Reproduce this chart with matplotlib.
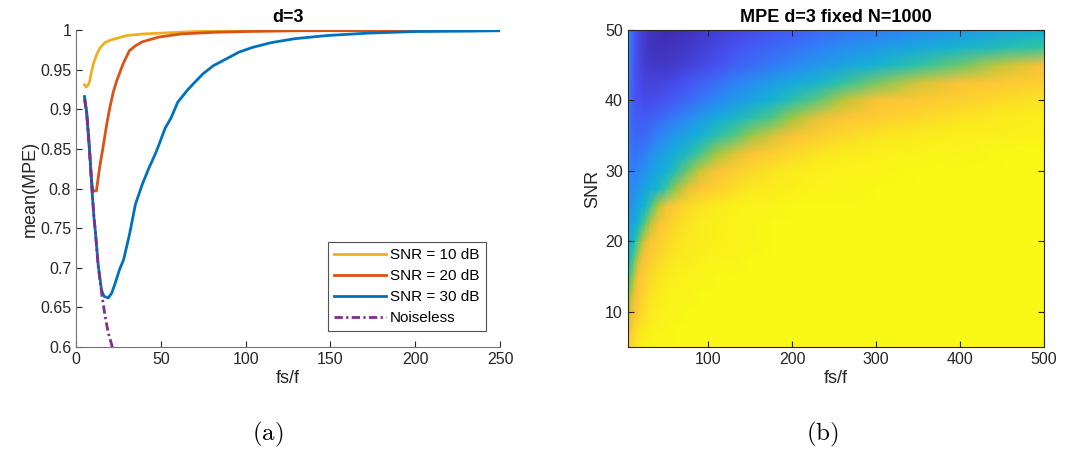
import numpy as np
import matplotlib
matplotlib.use('Agg')
import matplotlib.pyplot as plt
from matplotlib.colors import LinearSegmentedColormap
from matplotlib.ticker import FormatStrFormatter

# ---- panel (a): mean(MPE) vs fs/f ----
fs_10 = [5, 6, 7, 8, 9, 10.2, 12, 14, 17, 20, 25, 30, 40, 50, 70, 100, 150, 250]
mpe_10 = [0.931, 0.928, 0.930, 0.935, 0.946, 0.957, 0.968, 0.977, 0.984, 0.987,
          0.990, 0.993, 0.995, 0.996, 0.998, 0.999, 0.9995, 0.9995]

fs_20 = [5, 6.3, 7.8, 9.2, 10, 12, 14, 16, 18, 20, 22, 24, 27.7, 31.5, 35, 39,
         48.7, 62, 81, 100, 130, 250]
mpe_20 = [0.915, 0.895, 0.853, 0.810, 0.797, 0.797, 0.828, 0.853, 0.880, 0.903,
          0.922, 0.936, 0.957, 0.974, 0.980, 0.985, 0.991, 0.995, 0.997, 0.998,
          0.999, 0.9995]

fs_30 = [5, 6.3, 7.8, 9.2, 10.5, 11.5, 13, 15, 16.5, 19, 21, 23, 25.5, 28, 31.5,
         35, 39, 43, 47, 49, 52.5, 56, 60, 66, 70, 75, 81, 89, 96, 104, 115, 129,
         148, 172, 200, 230, 250]
mpe_30 = [0.916, 0.895, 0.853, 0.805, 0.765, 0.743, 0.705, 0.672, 0.664, 0.662,
          0.668, 0.680, 0.697, 0.710, 0.742, 0.780, 0.805, 0.826, 0.845, 0.856,
          0.876, 0.889, 0.909, 0.925, 0.934, 0.945, 0.955, 0.964, 0.972, 0.978,
          0.984, 0.989, 0.993, 0.996, 0.998, 0.9985, 0.999]

fs_nl = [5, 6.3, 7.8, 9.2, 10.5, 11.5, 13.1, 15.1, 17.1, 19, 21, 21.8]
mpe_nl = [0.912, 0.895, 0.853, 0.805, 0.765, 0.743, 0.701, 0.668, 0.639, 0.618,
          0.603, 0.595]

# ---- panel (b): MPE map, colour level (0 = dark blue, 1 = yellow) ----
fs_grid = [4, 6, 8, 12, 16, 20, 25, 30, 40, 50, 60, 75, 90, 110, 130, 150, 175,
           200, 230, 260, 300, 350, 400, 450, 500]
snr_grid = [5, 7.5, 10, 12.5, 15, 17.5, 20, 22.5, 25, 27.5, 30, 32.5, 35, 37.5,
            40, 42.5, 45, 47.5, 50]
level = [
    # SNR 5
    [0.90, 0.91, 0.92, 0.94, 0.96, 0.97, 0.98, 0.98, 0.99, 0.99, 0.99, 0.99, 0.99, 0.99, 0.99, 0.99, 0.99, 0.99, 0.99, 0.99, 0.99, 0.99, 0.99, 0.99, 0.99],
    # SNR 7.5
    [0.85, 0.86, 0.87, 0.90, 0.93, 0.95, 0.96, 0.97, 0.98, 0.98, 0.99, 0.99, 0.99, 0.99, 0.99, 0.99, 0.99, 0.99, 0.99, 0.99, 0.99, 0.99, 0.99, 0.99, 0.99],
    # SNR 10
    [0.80, 0.78, 0.80, 0.86, 0.88, 0.91, 0.93, 0.95, 0.97, 0.98, 0.98, 0.99, 0.99, 0.99, 0.99, 0.99, 0.99, 0.99, 0.99, 0.99, 0.99, 0.99, 0.99, 0.99, 0.99],
    # SNR 12.5
    [0.74, 0.70, 0.72, 0.82, 0.86, 0.88, 0.91, 0.93, 0.95, 0.97, 0.98, 0.98, 0.99, 0.99, 0.99, 0.99, 0.99, 0.99, 0.99, 0.99, 0.99, 0.99, 0.99, 0.99, 0.99],
    # SNR 15
    [0.68, 0.60, 0.62, 0.74, 0.84, 0.87, 0.89, 0.91, 0.94, 0.96, 0.97, 0.98, 0.98, 0.99, 0.99, 0.99, 0.99, 0.99, 0.99, 0.99, 0.99, 0.99, 0.99, 0.99, 0.99],
    # SNR 17.5
    [0.62, 0.50, 0.52, 0.62, 0.74, 0.82, 0.86, 0.88, 0.91, 0.93, 0.95, 0.96, 0.97, 0.98, 0.98, 0.99, 0.99, 0.99, 0.99, 0.99, 0.99, 0.99, 0.99, 0.99, 0.99],
    # SNR 20
    [0.60, 0.44, 0.43, 0.50, 0.60, 0.70, 0.79, 0.85, 0.88, 0.91, 0.93, 0.95, 0.96, 0.97, 0.98, 0.98, 0.99, 0.99, 0.99, 0.99, 0.99, 0.99, 0.99, 0.99, 0.99],
    # SNR 22.5
    [0.62, 0.38, 0.38, 0.41, 0.44, 0.52, 0.62, 0.72, 0.85, 0.88, 0.91, 0.94, 0.96, 0.97, 0.98, 0.98, 0.99, 0.99, 0.99, 0.99, 0.99, 0.99, 0.99, 0.99, 0.99],
    # SNR 25
    [0.66, 0.33, 0.33, 0.36, 0.40, 0.42, 0.46, 0.55, 0.72, 0.84, 0.87, 0.91, 0.94, 0.96, 0.97, 0.98, 0.98, 0.99, 0.99, 0.99, 0.99, 0.99, 0.99, 0.99, 0.99],
    # SNR 27.5
    [0.70, 0.32, 0.30, 0.31, 0.33, 0.36, 0.39, 0.41, 0.45, 0.57, 0.68, 0.81, 0.86, 0.89, 0.92, 0.95, 0.96, 0.97, 0.98, 0.98, 0.99, 0.99, 0.99, 0.99, 0.99],
    # SNR 30
    [0.73, 0.31, 0.28, 0.27, 0.28, 0.30, 0.33, 0.36, 0.40, 0.43, 0.50, 0.64, 0.76, 0.85, 0.88, 0.91, 0.94, 0.96, 0.97, 0.98, 0.98, 0.99, 0.99, 0.99, 0.99],
    # SNR 32.5
    [0.75, 0.30, 0.25, 0.23, 0.24, 0.25, 0.27, 0.30, 0.35, 0.39, 0.42, 0.48, 0.58, 0.70, 0.79, 0.85, 0.88, 0.91, 0.94, 0.96, 0.97, 0.98, 0.98, 0.99, 0.99],
    # SNR 35
    [0.76, 0.29, 0.22, 0.20, 0.20, 0.20, 0.21, 0.23, 0.27, 0.31, 0.35, 0.39, 0.43, 0.52, 0.60, 0.69, 0.78, 0.85, 0.88, 0.91, 0.94, 0.96, 0.97, 0.97, 0.98],
    # SNR 37.5
    [0.76, 0.28, 0.21, 0.18, 0.17, 0.17, 0.17, 0.18, 0.20, 0.23, 0.26, 0.30, 0.35, 0.41, 0.46, 0.52, 0.60, 0.70, 0.82, 0.86, 0.88, 0.91, 0.94, 0.96, 0.97],
    # SNR 40
    [0.75, 0.28, 0.20, 0.16, 0.14, 0.13, 0.12, 0.12, 0.13, 0.15, 0.17, 0.20, 0.24, 0.29, 0.34, 0.38, 0.44, 0.52, 0.62, 0.74, 0.85, 0.87, 0.89, 0.92, 0.94],
    # SNR 42.5
    [0.74, 0.29, 0.21, 0.16, 0.13, 0.11, 0.10, 0.10, 0.10, 0.11, 0.12, 0.15, 0.18, 0.22, 0.27, 0.31, 0.36, 0.40, 0.45, 0.54, 0.65, 0.78, 0.85, 0.87, 0.89],
    # SNR 45
    [0.72, 0.30, 0.22, 0.16, 0.12, 0.10, 0.08, 0.07, 0.06, 0.06, 0.07, 0.09, 0.11, 0.14, 0.18, 0.21, 0.25, 0.29, 0.34, 0.38, 0.44, 0.54, 0.64, 0.76, 0.85],
    # SNR 47.5
    [0.70, 0.31, 0.23, 0.16, 0.12, 0.09, 0.07, 0.05, 0.04, 0.04, 0.05, 0.06, 0.08, 0.11, 0.14, 0.17, 0.20, 0.23, 0.27, 0.31, 0.35, 0.40, 0.45, 0.50, 0.56],
    # SNR 50
    [0.68, 0.32, 0.24, 0.16, 0.12, 0.09, 0.07, 0.05, 0.03, 0.02, 0.03, 0.04, 0.06, 0.08, 0.10, 0.12, 0.15, 0.17, 0.20, 0.23, 0.26, 0.30, 0.34, 0.38, 0.42],
]

parula = LinearSegmentedColormap.from_list('parula', [
    (0.2422, 0.1504, 0.6603), (0.2810, 0.3228, 0.9579), (0.1786, 0.5289, 0.9682),
    (0.0689, 0.6948, 0.8394), (0.2161, 0.7843, 0.5923), (0.6720, 0.7793, 0.2227),
    (0.9970, 0.7659, 0.2199), (0.9769, 0.9839, 0.0805)])

plt.rcParams['font.family'] = ['Liberation Sans', 'DejaVu Sans']
plt.rcParams['mathtext.fontset'] = 'cm'
axc = '0.15'

fig = plt.figure(figsize=(10.91, 4.54), dpi=100)

# left panel
ax1 = fig.add_axes([0.0697, 0.2355, 0.3887, 0.6985])
ax1.plot(fs_10, mpe_10, color=(0.929, 0.694, 0.125), lw=2, label='SNR = 10 dB')
ax1.plot(fs_20, mpe_20, color=(0.851, 0.325, 0.098), lw=2, label='SNR = 20 dB')
ax1.plot(fs_30, mpe_30, color=(0.0, 0.447, 0.741), lw=2, label='SNR = 30 dB')
ax1.plot(fs_nl, mpe_nl, color=(0.494, 0.184, 0.556), lw=2,
         linestyle=(0, (3, 1.2, 0.8, 1.2)), label='Noiseless')
ax1.set_xlim(0, 250)
ax1.set_ylim(0.6, 1.0)
ax1.set_xticks([0, 50, 100, 150, 200, 250])
ax1.set_yticks([0.6, 0.65, 0.7, 0.75, 0.8, 0.85, 0.9, 0.95, 1.0])
ax1.yaxis.set_major_formatter(FormatStrFormatter('%g'))
ax1.spines['top'].set_visible(False)
ax1.spines['right'].set_visible(False)
for s in ('left', 'bottom'):
    ax1.spines[s].set_color('0.45')
    ax1.spines[s].set_linewidth(0.8)
ax1.tick_params(direction='in', length=4, labelsize=11.5, colors=axc, width=0.8)
ax1.set_xlabel('fs/f', fontsize=13, color=axc, labelpad=2)
ax1.set_ylabel('mean(MPE)', fontsize=13, color=axc, labelpad=1)
ax1.set_title('d=3', fontsize=13, fontweight='bold', pad=6)
leg = ax1.legend(loc='lower right', bbox_to_anchor=(0.966, 0.05), fontsize=11,
                 frameon=True, fancybox=False, handlelength=3.4, handletextpad=0.3,
                 labelspacing=0.45, borderpad=0.4, borderaxespad=0)
leg.get_frame().set_edgecolor('0.15')
leg.get_frame().set_linewidth(0.8)

# right panel
ax2 = fig.add_axes([0.5753, 0.2355, 0.3816, 0.6985])
X, Y = np.meshgrid(fs_grid, snr_grid)
ax2.pcolormesh(X, Y, np.array(level), cmap=parula, vmin=0, vmax=1, shading='gouraud')
ax2.set_xlim(4, 500)
ax2.set_ylim(5, 50)
ax2.set_xticks([100, 200, 300, 400, 500])
ax2.set_yticks([10, 20, 30, 40, 50])
for s in ax2.spines.values():
    s.set_color('0.15')
    s.set_linewidth(0.8)
ax2.tick_params(direction='in', length=4, labelsize=11.5, colors=axc, width=0.8,
                top=True, right=True)
ax2.set_xlabel('fs/f', fontsize=13, color=axc, labelpad=2)
ax2.set_ylabel('SNR', fontsize=13, color=axc, labelpad=3)
ax2.set_title('MPE d=3 fixed N=1000', fontsize=13, fontweight='bold', pad=6)

fig.text(0.245, 0.042, r'$\mathrm{(a)}$', fontsize=18, ha='center', va='center')
fig.text(0.754, 0.042, r'$\mathrm{(b)}$', fontsize=18, ha='center', va='center')

fig.savefig('out.png', dpi=100)
